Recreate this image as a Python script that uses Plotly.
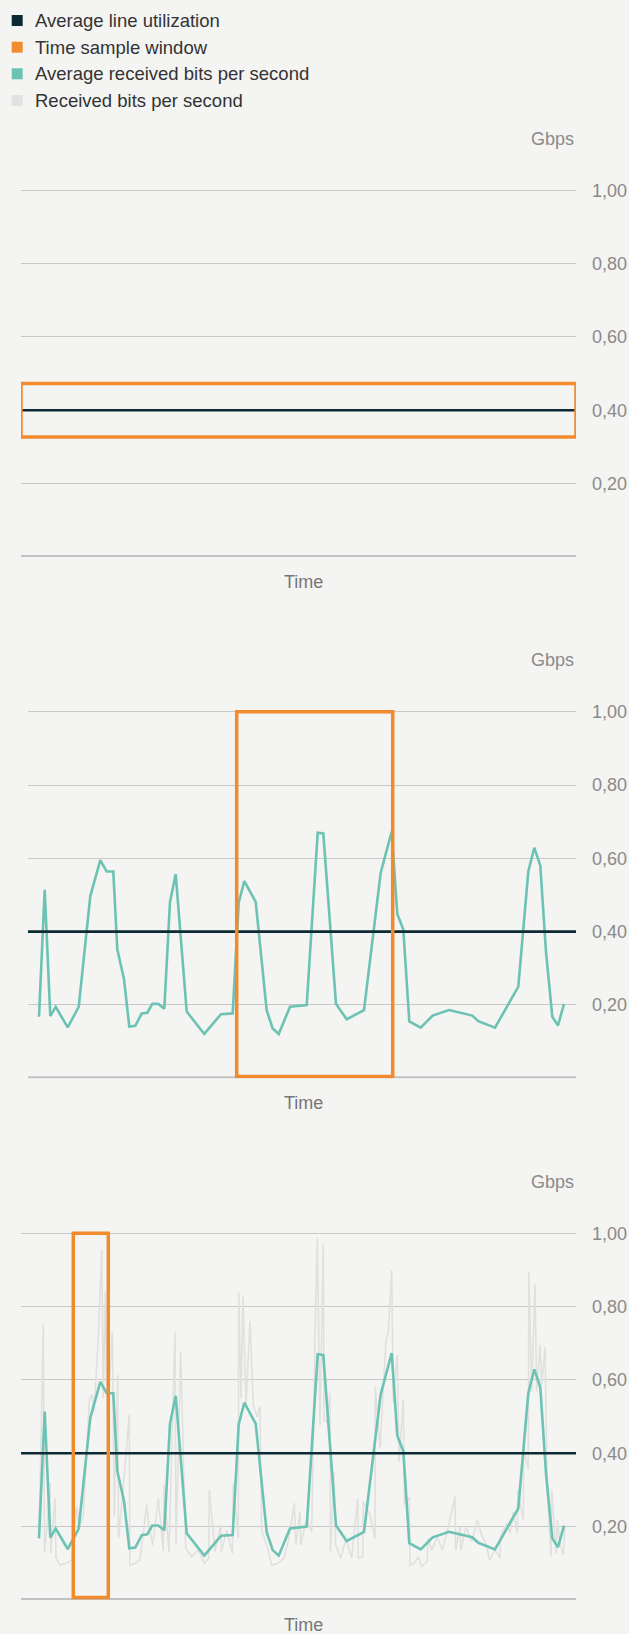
import plotly.graph_objects as go

# ---------------- data ----------------
legend_labels = ["Average line utilization", "Time sample window",
                 "Average received bits per second", "Received bits per second"]
avg_utilization = 0.40
y_ticks = [0.2, 0.4, 0.6, 0.8, 1.0]

avg_t = [18, 23.7, 29.3, 34.7, 46.7, 57.7, 69.3, 79.3, 85.7, 92.3, 96.3, 103, 108.3, 114.3,
         120.7, 126.3, 131.3, 137.3, 143.3, 149, 154.7, 165.7, 183.3, 200, 211.7, 217.7,
         223.3, 234.7, 245.7, 251.7, 257.7, 269, 285.7, 296.7, 302.3, 315, 325.7, 343,
         359.7, 370.7, 376.3, 382.3, 388.3, 399.7, 411.7, 428, 451.3, 457.3, 474, 497.3,
         507.3, 513.3, 519.3, 525, 531.3, 537, 543]
avg_bps = [0.168, 0.514, 0.170, 0.195, 0.139, 0.195, 0.497, 0.595, 0.564, 0.564, 0.352, 0.27,
           0.141, 0.143, 0.177, 0.179, 0.203, 0.203, 0.19, 0.481, 0.557, 0.182, 0.121, 0.175,
           0.177, 0.479, 0.538, 0.481, 0.185, 0.136, 0.121, 0.195, 0.2, 0.67, 0.668, 0.203,
           0.161, 0.186, 0.561, 0.673, 0.448, 0.406, 0.155, 0.138, 0.171, 0.186, 0.171, 0.156,
           0.138, 0.25, 0.564, 0.629, 0.58, 0.345, 0.168, 0.144, 0.203]

raw_t = [18, 22.3, 23.5, 26, 29, 29.7, 34, 35, 39, 45, 50.7, 55.7, 58, 62.3, 68.3, 71, 73, 77,
         80.7, 82.3, 84.3, 86.3, 91.3, 93.3, 96.7, 97.5, 102, 108.3, 108.8, 114, 119, 125.7,
         128, 131.7, 137.3, 142.3, 143, 148, 154, 155, 159.7, 164.7, 170.7, 177.3, 183.3,
         187.7, 188.3, 194, 199.7, 200.3, 205.7, 211.3, 212.3, 217.3, 217.7, 220, 222, 225,
         229, 232.3, 236, 239, 240.7, 245.7, 250.7, 257, 263, 268, 273.3, 274.7, 279, 279.7,
         285.7, 290.7, 294, 296.3, 299, 302.3, 303, 305.7, 309, 309.5, 313, 314.7, 319.7, 325,
         330.7, 336.7, 337.3, 341.7, 342.3, 349, 354, 354.3, 359, 365, 367.3, 370.7, 372.3,
         376.3, 378, 382.3, 383.3, 388.3, 389, 393, 397.3, 400.7, 406.3, 406.8, 410.7, 416.3,
         421.3, 427.3, 434, 434.7, 439, 439.7, 445, 450.7, 456.3, 460.7, 465.7, 468.3, 474,
         479, 479.7, 485.7, 489, 492.3, 496.3, 496.8, 502.3, 502.8, 507.3, 507.8, 510.7, 514,
         515.7, 519, 520.7, 524, 526.3, 530, 530.7, 535, 536.3, 539, 542.3, 544]
raw_bps = [0.17, 0.75, 0.13, 0.2, 0.32, 0.127, 0.28, 0.114, 0.095, 0.1, 0.109, 0.255, 0.2, 0.227,
           0.545, 0.56, 0.514, 0.7, 0.955, 0.55, 0.84, 0.486, 0.73, 0.23, 0.614, 0.168, 0.3,
           0.505, 0.094, 0.1, 0.109, 0.26, 0.2, 0.15, 0.277, 0.134, 0.314, 0.13, 0.73, 0.15,
           0.677, 0.14, 0.118, 0.136, 0.1, 0.114, 0.3, 0.132, 0.205, 0.132, 0.19, 0.127, 0.318,
           0.168, 0.84, 0.55, 0.827, 0.532, 0.76, 0.532, 0.5, 0.527, 0.19, 0.15, 0.095, 0.1,
           0.114, 0.17, 0.264, 0.15, 0.24, 0.15, 0.22, 0.186, 0.72, 0.986, 0.477, 0.97, 0.49,
           0.486, 0.564, 0.132, 0.35, 0.15, 0.114, 0.168, 0.114, 0.277, 0.114, 0.118, 0.268,
           0.232, 0.168, 0.582, 0.414, 0.709, 0.73, 0.9, 0.54, 0.668, 0.377, 0.545, 0.26, 0.28,
           0.095, 0.1, 0.118, 0.091, 0.105, 0.168, 0.136, 0.173, 0.136, 0.2, 0.282, 0.136, 0.2,
           0.136, 0.2, 0.159, 0.218, 0.177, 0.15, 0.109, 0.136, 0.114, 0.177, 0.209, 0.182,
           0.24, 0.182, 0.3, 0.218, 0.414, 0.355, 0.895, 0.568, 0.86, 0.568, 0.695, 0.586,
           0.69, 0.3, 0.118, 0.3, 0.127, 0.218, 0.155, 0.123, 0.2]

# sample windows: (t0, t1, y0, y1) for the three panels
windows = [(0, 555, 0.327, 0.473), (215.7, 371.7, 0.005, 1.0), (52.3, 87.3, 0.007, 1.0)]

# ---------------- style ----------------
W, H = 629, 1634
BG = "#f4f4f2"
C_BLACK = "#0c2a33"
C_ORANGE = "#f28a2e"
C_TEAL = "#6cc3b3"
C_GRAY = "#e0e0de"
GRID = "#c8c8c8"
FONT = "Liberation Sans"
Y_TOP = 1.02  # small headroom so the 1,00 gridline is drawn

# panel geometry in pixels: (left, right, y_of_zero, y_of_one)
panels = [(21, 576, 557, 190.3), (28, 576, 1078.3, 711.7), (21, 576, 1600, 1233.3)]
x_full = [0, 555]

fig = go.Figure()

layout = dict(width=W, height=H, margin=dict(l=0, r=0, t=0, b=0, autoexpand=False),
              paper_bgcolor=BG, plot_bgcolor=BG, showlegend=False,
              separators=",.", font=dict(family=FONT))
shapes = []
annotations = []

for i, (lft, rgt, y0px, y1px) in enumerate(panels):
    n = "" if i == 0 else str(i + 1)
    xa, ya = "x" + n, "y" + n
    xmin = x_full[0] + (lft - panels[0][0])
    ytop_px = y0px - (y0px - y1px) * Y_TOP
    layout["xaxis" + n] = dict(domain=[lft / W, rgt / W], range=[xmin, x_full[1]],
                               anchor=ya, showgrid=False, zeroline=False, showline=False,
                               showticklabels=False, ticks="", fixedrange=True,
                               automargin=False)
    layout["yaxis" + n] = dict(domain=[1 - y0px / H, 1 - ytop_px / H], range=[0, Y_TOP],
                               anchor=xa, side="right", tickvals=y_ticks, tickformat=".2f",
                               showgrid=True, gridcolor=GRID, gridwidth=1.2, zeroline=False,
                               showline=False, ticks="", ticklabelstandoff=15,
                               tickfont=dict(size=18, color="#8a8a8a", family=FONT),
                               fixedrange=True, automargin=False)
    # baseline
    shapes.append(dict(type="line", xref=xa + " domain", yref=ya, x0=0, x1=1, y0=0, y1=0,
                       line=dict(color="#c2c2c2", width=4), layer="below"))
    # traces
    if i == 2:
        fig.add_trace(go.Scatter(x=raw_t, y=raw_bps, mode="lines", xaxis=xa, yaxis=ya,
                                 line=dict(color=C_GRAY, width=1.6), hoverinfo="skip"))
    if i >= 1:
        fig.add_trace(go.Scatter(x=avg_t, y=avg_bps, mode="lines", xaxis=xa, yaxis=ya,
                                 line=dict(color=C_TEAL, width=2.6), hoverinfo="skip"))
    fig.add_trace(go.Scatter(x=[xmin, x_full[1]], y=[avg_utilization] * 2, mode="lines",
                             xaxis=xa, yaxis=ya, line=dict(color=C_BLACK, width=2.6),
                             hoverinfo="skip"))
    # sample window
    t0, t1, wy0, wy1 = windows[i]
    shapes.append(dict(type="rect", xref=xa, yref=ya, x0=t0, x1=t1, y0=wy0, y1=wy1,
                       line=dict(color=C_ORANGE, width=3.5), fillcolor="rgba(0,0,0,0)",
                       layer="above"))
    # unit label
    annotations.append(dict(text="Gbps", xref="paper", yref="paper", x=rgt / W,
                            y=1 - (y1px - 51.3) / H, xanchor="right", yanchor="middle",
                            showarrow=False, font=dict(size=18, color="#8a8a8a", family=FONT)))
    # axis title
    annotations.append(dict(text="Time", xref="paper", yref="paper", x=303 / W,
                            y=1 - (y0px + 25) / H, xanchor="center", yanchor="middle",
                            showarrow=False, font=dict(size=18, color="#777777", family=FONT)))

# legend (manual)
leg_colors = [C_BLACK, C_ORANGE, C_TEAL, "#e2e2e2"]
leg_y = [20.5, 47.2, 73.8, 100.5]
for lab, col, yc in zip(legend_labels, leg_colors, leg_y):
    shapes.append(dict(type="rect", xref="paper", yref="paper", x0=11.7 / W, x1=22.7 / W,
                       y0=1 - (yc + 5.5) / H, y1=1 - (yc - 5.5) / H,
                       fillcolor=col, line=dict(width=0)))
    annotations.append(dict(text=lab, xref="paper", yref="paper", x=33 / W, y=1 - yc / H,
                            xanchor="left", yanchor="middle", showarrow=False,
                            font=dict(size=18.5, color="#333333", family=FONT)))

layout["shapes"] = shapes
layout["annotations"] = annotations
fig.update_layout(**layout)

fig.write_html("out.html", config={"displayModeBar": False},
               post_script="document.body.style.margin='0';document.body.style.background='" + BG + "';")
